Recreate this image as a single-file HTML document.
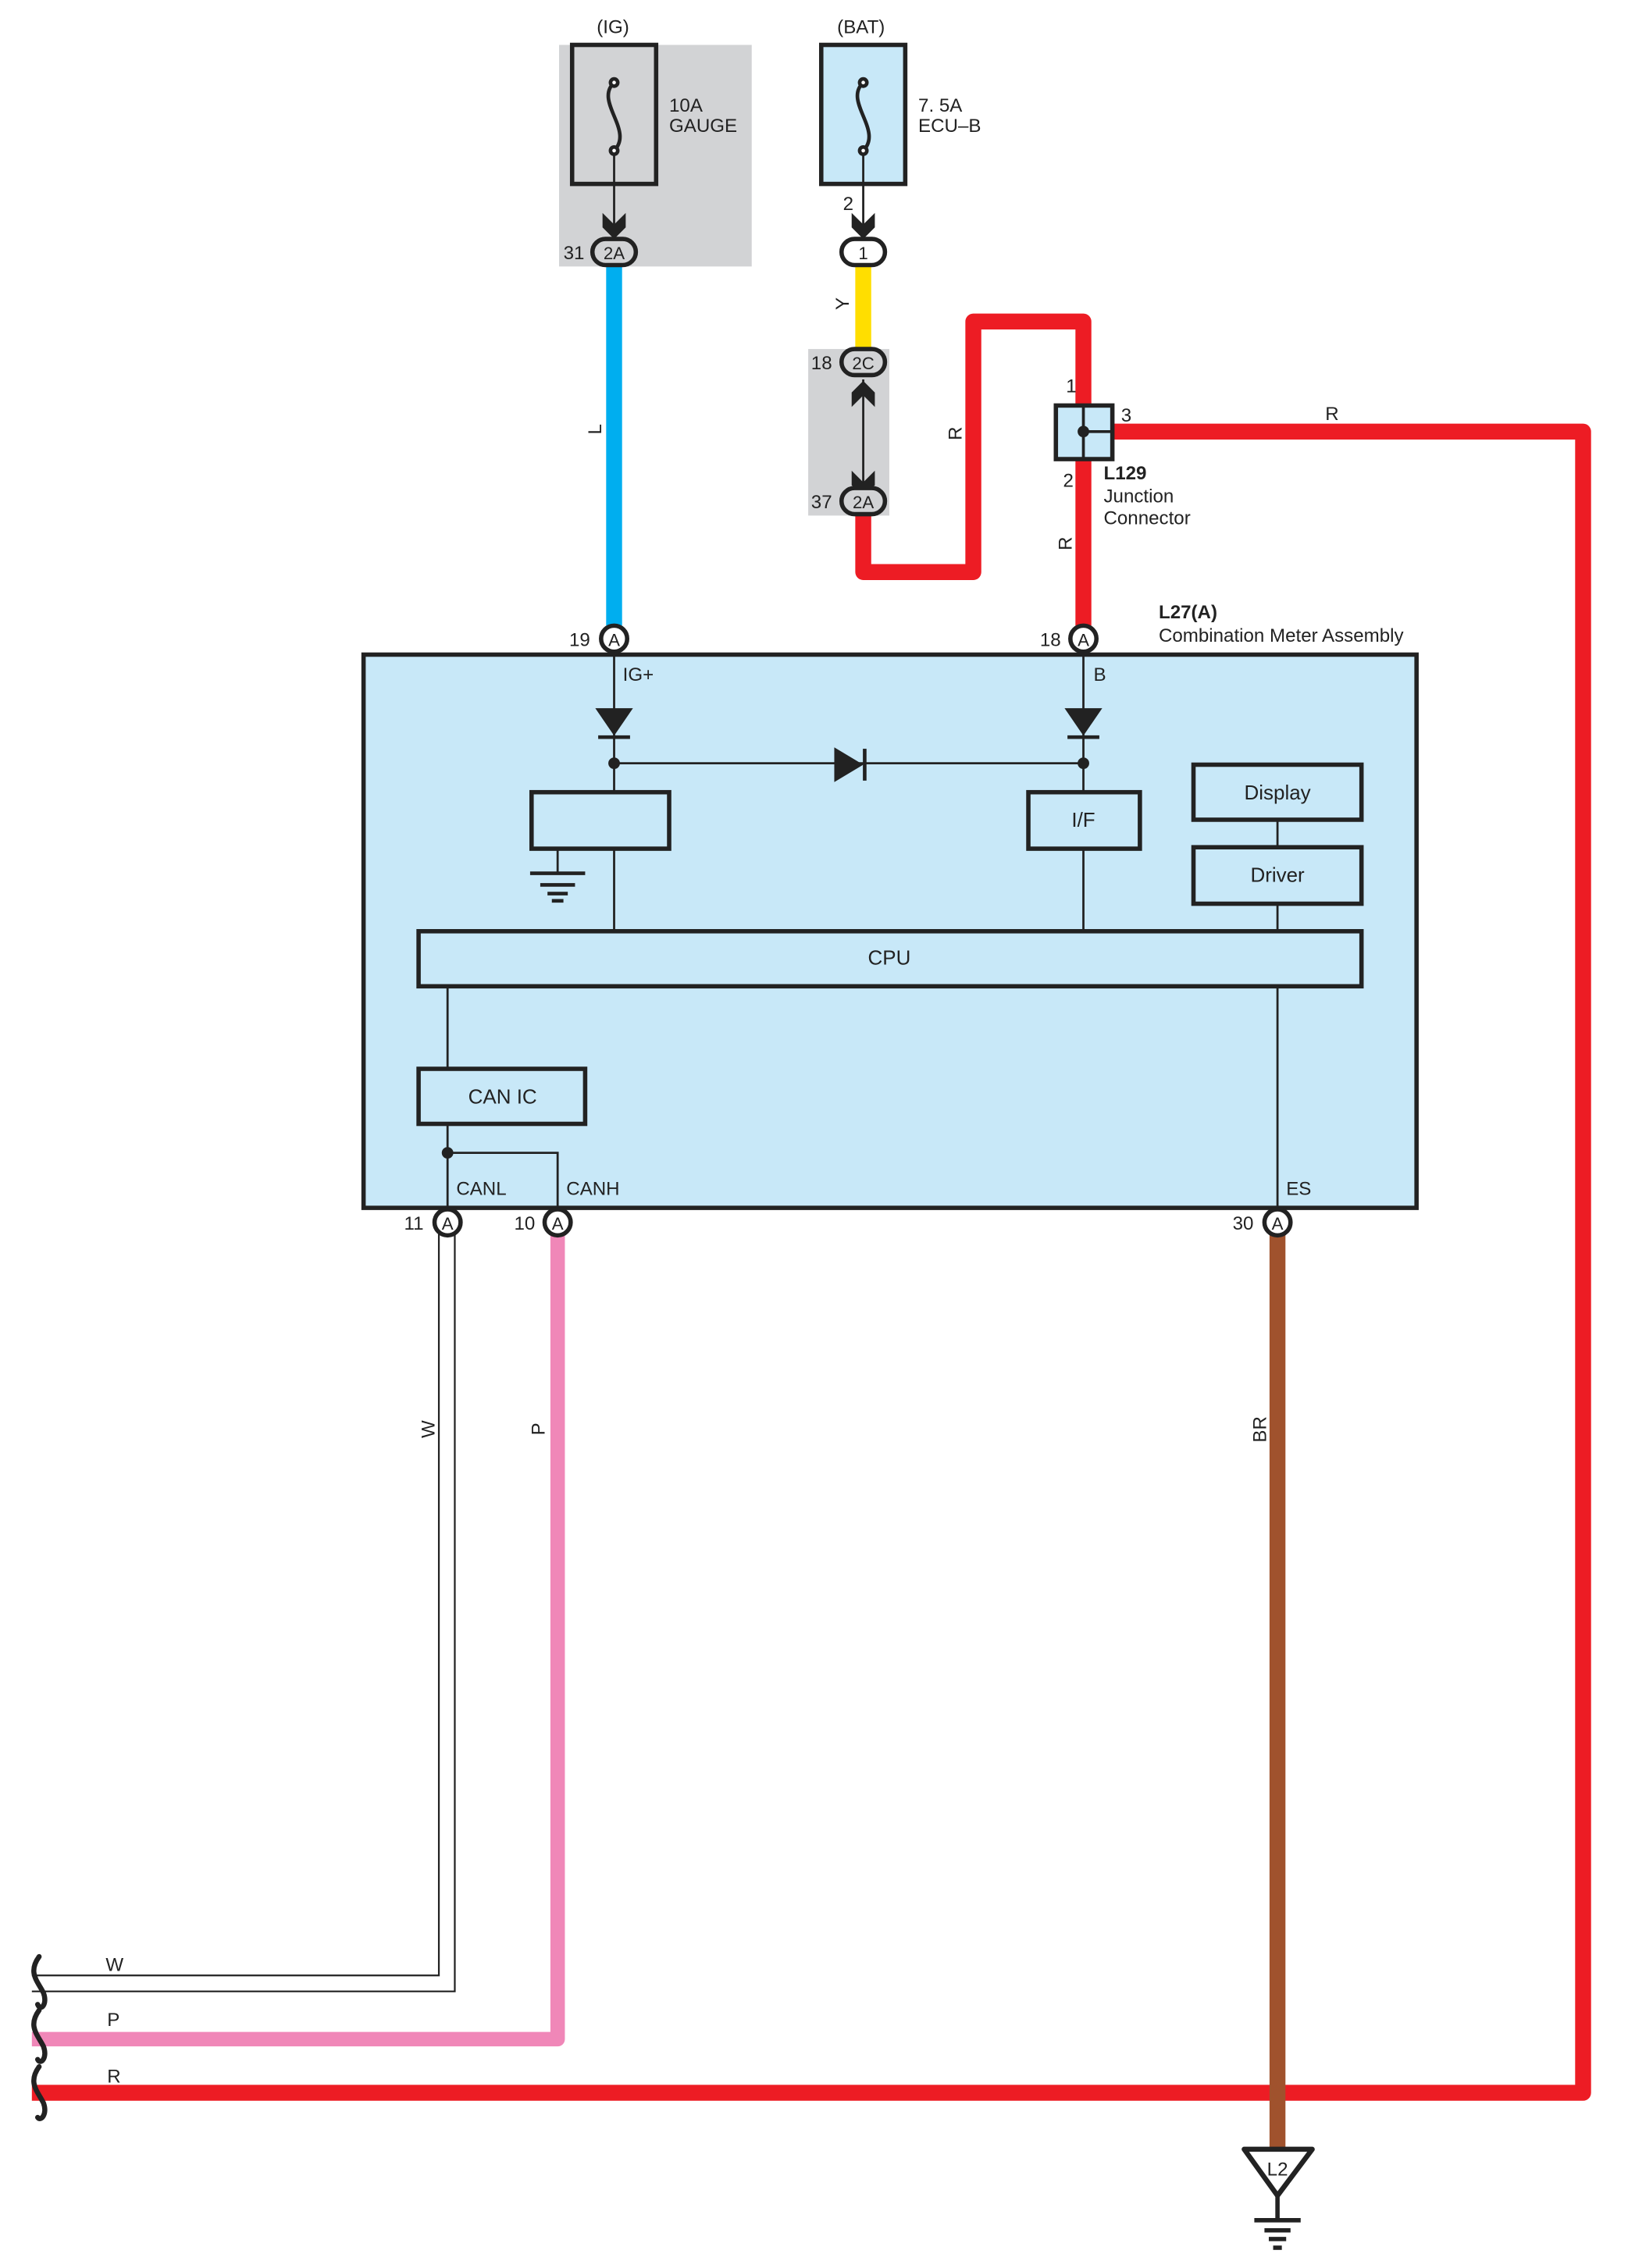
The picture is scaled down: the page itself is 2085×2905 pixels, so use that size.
<!DOCTYPE html>
<html><head><meta charset="utf-8"><style>html,body{margin:0;padding:0;background:#fff}svg{display:block}</style></head>
<body>
<svg width="2085" height="2905" viewBox="0 0 1124 1566" preserveAspectRatio="none" xmlns="http://www.w3.org/2000/svg" font-family="Liberation Sans, sans-serif" font-size="13" fill="#222">
<rect x="386" y="31" width="133" height="153" fill="#d2d3d5"/>
<rect x="558" y="241" width="56" height="115" fill="#d2d3d5"/>
<line x1="424" y1="183" x2="424" y2="432" stroke="#00aeef" stroke-width="11"/>
<line x1="596" y1="183" x2="596" y2="242" stroke="#ffde00" stroke-width="11"/>
<path d="M596,355 V395 H672 V222 H748 V432" fill="none" stroke="#ed1c24" stroke-width="11" stroke-linejoin="round"/>
<path d="M768,298 H1093 V1445 H22" fill="none" stroke="#ed1c24" stroke-width="11" stroke-linejoin="round"/>
<path d="M385,852 V1408 H22" fill="none" stroke="#f087b8" stroke-width="10" stroke-linejoin="round"/>
<path d="M303,852 V1364 H22 M314,852 V1375 H22" fill="none" stroke="#222" stroke-width="1.2"/>
<line x1="882" y1="852" x2="882" y2="1485" stroke="#a0522d" stroke-width="11"/>
<rect x="395" y="31" width="58" height="96" fill="none" stroke="#222" stroke-width="3"/>
<rect x="567" y="31" width="58" height="96" fill="#c8e8f8" stroke="#222" stroke-width="3"/>
<g fill="none" stroke="#222" stroke-width="2.5">
<path d="M424,57 C410,70 438,90 424,104"/><circle cx="424" cy="57" r="2.5" fill="#fff"/><circle cx="424" cy="104" r="2.5" fill="#fff"/>
<path d="M596,57 C582,70 610,90 596,104"/><circle cx="596" cy="57" r="2.5" fill="#fff"/><circle cx="596" cy="104" r="2.5" fill="#fff"/>
</g>
<g stroke="#222" stroke-width="1.5"><line x1="424" y1="106" x2="424" y2="160"/><line x1="596" y1="106" x2="596" y2="160"/><line x1="596" y1="262" x2="596" y2="334"/></g>
<g fill="#222">
<path d="M416,147 L424,155 L432,147 L432,157 L424,165 L416,157Z"/>
<path d="M588,147 L596,155 L604,147 L604,157 L596,165 L588,157Z"/>
<path d="M588,325 L596,333 L604,325 L604,335 L596,343 L588,335Z"/>
<path d="M588,271 L596,263 L604,271 L604,281 L596,273 L588,281Z"/>
</g>
<g fill="#fff" stroke="#222" stroke-width="3">
<rect x="409" y="165" width="30" height="18" rx="9" fill="#d2d3d5"/>
<rect x="581" y="165" width="30" height="18" rx="9"/>
<rect x="581" y="241" width="30" height="18" rx="9" fill="#d2d3d5"/>
<rect x="581" y="337" width="30" height="18" rx="9" fill="#d2d3d5"/>
</g>
<g text-anchor="middle" font-size="12"><text x="424" y="179">2A</text><text x="596" y="179">1</text><text x="596" y="255">2C</text><text x="596" y="351">2A</text></g>
<g font-size="13"><text x="389" y="179">31</text><text x="582" y="145">2</text><text x="560" y="255">18</text><text x="560" y="351">37</text>
<text x="412" y="23">(IG)</text><text x="578" y="23">(BAT)</text>
<text x="462" y="77">10A</text><text x="462" y="91">GAUGE</text><text x="634" y="77">7. 5A</text><text x="634" y="91">ECU–B</text></g>
<g font-size="13"><text transform="translate(415,300) rotate(-90)">L</text><text transform="translate(586,214) rotate(-90)">Y</text><text transform="translate(664,304) rotate(-90)">R</text><text transform="translate(740,380) rotate(-90)">R</text>
<text transform="translate(300,993) rotate(-90)">W</text><text transform="translate(376,991) rotate(-90)">P</text><text transform="translate(874,996) rotate(-90)">BR</text>
<text x="915" y="290">R</text><text x="73" y="1361">W</text><text x="74" y="1399">P</text><text x="74" y="1438">R</text></g>
<rect x="729" y="280" width="39" height="37" fill="#c8e8f8" stroke="#222" stroke-width="3"/>
<path d="M748,280 V317 M748,298 H768" stroke="#222" stroke-width="2"/><circle cx="748" cy="298" r="4" fill="#222"/>
<text x="736" y="271">1</text><text x="774" y="291">3</text><text x="734" y="336">2</text>
<text x="762" y="331" font-weight="bold">L129</text><text x="762" y="347">Junction</text><text x="762" y="362">Connector</text>
<text x="800" y="427" font-weight="bold">L27(A)</text><text x="800" y="443">Combination Meter Assembly</text>
<rect x="251" y="452" width="727" height="382" fill="#c8e8f8" stroke="#222" stroke-width="3"/>
<g stroke="#222" stroke-width="1.5" fill="none">
<line x1="424" y1="452" x2="424" y2="643"/><line x1="748" y1="452" x2="748" y2="643"/>
<line x1="424" y1="527" x2="748" y2="527"/>
<line x1="385" y1="586" x2="385" y2="603"/>
<line x1="882" y1="566" x2="882" y2="585"/><line x1="882" y1="624" x2="882" y2="643"/>
<line x1="309" y1="681" x2="309" y2="738"/><line x1="882" y1="681" x2="882" y2="836"/>
<line x1="309" y1="776" x2="309" y2="836"/><path d="M309,796 H385 V836"/>
</g>
<g stroke="#222" stroke-width="2.5"><line x1="366" y1="603" x2="404" y2="603"/><line x1="373" y1="611" x2="397" y2="611"/><line x1="378" y1="617" x2="392" y2="617"/><line x1="381" y1="622" x2="389" y2="622"/>
<line x1="413" y1="509" x2="435" y2="509"/><line x1="737" y1="509" x2="759" y2="509"/><line x1="597" y1="517" x2="597" y2="539"/></g>
<g fill="#222"><path d="M411,489 H437 L424,508Z"/><path d="M735,489 H761 L748,508Z"/><path d="M576,516 V540 L596,528Z"/>
<circle cx="424" cy="527" r="4"/><circle cx="748" cy="527" r="4"/><circle cx="309" cy="796" r="4"/></g>
<g fill="#c8e8f8" stroke="#222" stroke-width="3">
<rect x="367" y="547" width="95" height="39"/><rect x="710" y="547" width="77" height="39"/>
<rect x="824" y="528" width="116" height="38"/><rect x="824" y="585" width="116" height="39"/>
<rect x="289" y="643" width="651" height="38"/><rect x="289" y="738" width="115" height="38"/></g>
<g font-size="14" text-anchor="middle"><text x="748" y="571">I/F</text><text x="882" y="552">Display</text><text x="882" y="609">Driver</text><text x="614" y="666">CPU</text><text x="347" y="762">CAN IC</text></g>
<g font-size="13"><text x="430" y="470">IG+</text><text x="755" y="470">B</text><text x="315" y="825">CANL</text><text x="391" y="825">CANH</text><text x="888" y="825">ES</text></g>
<g fill="#fff" stroke="#222" stroke-width="3"><circle cx="424" cy="441" r="9"/><circle cx="748" cy="441" r="9"/><circle cx="309" cy="844" r="9"/><circle cx="385" cy="844" r="9"/><circle cx="882" cy="844" r="9"/></g>
<g font-size="12" text-anchor="middle"><text x="424" y="446">A</text><text x="748" y="446">A</text><text x="309" y="849">A</text><text x="385" y="849">A</text><text x="882" y="849">A</text></g>
<g font-size="13"><text x="393" y="446">19</text><text x="718" y="446">18</text><text x="279" y="849">11</text><text x="355" y="849">10</text><text x="851" y="849">30</text></g>
<path d="M859,1484 H906 L882,1516Z" fill="#fff" stroke="#222" stroke-width="3.5" stroke-linejoin="round"/>
<text x="882" y="1502" text-anchor="middle" font-size="13">L2</text>
<g stroke="#222" stroke-width="3"><line x1="882" y1="1516" x2="882" y2="1533"/><line x1="866" y1="1533" x2="898" y2="1533"/><line x1="873" y1="1540" x2="891" y2="1540"/><line x1="876" y1="1546" x2="888" y2="1546"/><line x1="879" y1="1552" x2="885" y2="1552"/></g>
<path d="M27,1351 C19,1362 26,1368 30,1376 C33,1384 28,1389 26,1384 M27,1388 C19,1399 26,1405 30,1413 C33,1421 28,1426 26,1422 M27,1427 C19,1438 26,1444 30,1452 C33,1460 28,1465 26,1462" fill="none" stroke="#222" stroke-width="3.5" stroke-linecap="round"/>
</svg>
</body></html>
